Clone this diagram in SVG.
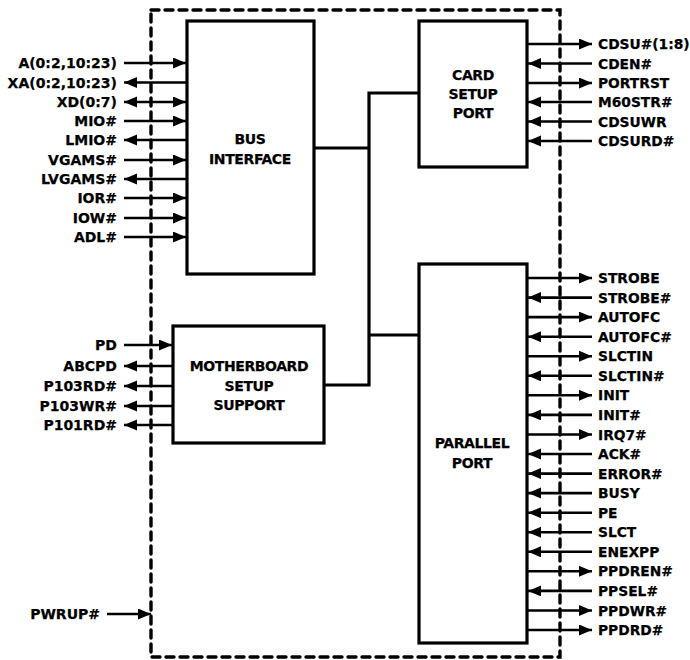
<svg xmlns="http://www.w3.org/2000/svg" width="690" height="660" viewBox="0 0 690 660">
<style>
.box{fill:#fff;stroke:#000;stroke-width:3.2}
.sig{stroke:#000;stroke-width:2.6;fill:none}
.wire{stroke:#000;stroke-width:3.2;fill:none}
.border{fill:none;stroke:#000;stroke-width:3.4;stroke-dasharray:8 6;stroke-linecap:round}
text{font-family:"DejaVu Sans","Liberation Sans",sans-serif;font-weight:bold;fill:#000;stroke:#000;stroke-width:0.25}
.l{font-size:14px;text-anchor:end}
.r{font-size:13.8px;text-anchor:start}
.c{font-size:14px;text-anchor:middle;letter-spacing:-0.4px}
.in{marker-end:url(#ah)}
.out{marker-start:url(#ah)}
.both{marker-start:url(#ah);marker-end:url(#ah)}
</style>
<defs>
<marker id="ah" markerUnits="userSpaceOnUse" markerWidth="14" markerHeight="12" refX="13" refY="5.5" orient="auto-start-reverse" viewBox="0 0 14 12">
<path d="M0,0 L13,5.5 L0,11 z" fill="#000"/>
</marker>
</defs>
<rect width="690" height="660" fill="#fff"/>
<rect class="border" x="151" y="10" width="409" height="647"/>

<g id="connectors">
<polyline class="wire" points="314,148 369,148"/>
<polyline class="wire" points="419,93 369,93 369,385 324,385"/>
<polyline class="wire" points="369,335 419,335"/>
<!-- bus interface signals -->
<line class="sig in" x1="124" y1="63" x2="186" y2="63"/>
<line class="sig out" x1="124" y1="82.5" x2="186" y2="82.5"/>
<line class="sig both" x1="124" y1="102" x2="186" y2="102"/>
<line class="sig in" x1="124" y1="121" x2="186" y2="121"/>
<line class="sig out" x1="124" y1="140" x2="186" y2="140"/>
<line class="sig in" x1="124" y1="160" x2="186" y2="160"/>
<line class="sig out" x1="124" y1="179" x2="186" y2="179"/>
<line class="sig in" x1="124" y1="198" x2="186" y2="198"/>
<line class="sig in" x1="124" y1="218" x2="186" y2="218"/>
<line class="sig in" x1="124" y1="237" x2="186" y2="237"/>
<!-- motherboard signals -->
<line class="sig in" x1="124" y1="345" x2="172" y2="345"/>
<line class="sig out" x1="124" y1="366" x2="172" y2="366"/>
<line class="sig out" x1="124" y1="386" x2="172" y2="386"/>
<line class="sig out" x1="124" y1="406" x2="172" y2="406"/>
<line class="sig out" x1="124" y1="425" x2="172" y2="425"/>
<!-- PWRUP -->
<line class="sig in" x1="107" y1="614" x2="151" y2="614"/>
<!-- card setup signals -->
<line class="sig in" x1="528" y1="44" x2="592" y2="44"/>
<line class="sig out" x1="528" y1="63.5" x2="592" y2="63.5"/>
<line class="sig in" x1="528" y1="83" x2="592" y2="83"/>
<line class="sig out" x1="528" y1="102" x2="592" y2="102"/>
<line class="sig out" x1="528" y1="121.5" x2="592" y2="121.5"/>
<line class="sig out" x1="528" y1="141" x2="592" y2="141"/>
<!-- parallel signals -->
<line class="sig in" x1="528" y1="278" x2="592" y2="278"/>
<line class="sig out" x1="528" y1="297.6" x2="592" y2="297.6"/>
<line class="sig in" x1="528" y1="317.1" x2="592" y2="317.1"/>
<line class="sig out" x1="528" y1="336.7" x2="592" y2="336.7"/>
<line class="sig in" x1="528" y1="356.2" x2="592" y2="356.2"/>
<line class="sig out" x1="528" y1="375.8" x2="592" y2="375.8"/>
<line class="sig in" x1="528" y1="395.3" x2="592" y2="395.3"/>
<line class="sig out" x1="528" y1="414.9" x2="592" y2="414.9"/>
<line class="sig in" x1="528" y1="434.5" x2="592" y2="434.5"/>
<line class="sig out" x1="528" y1="454" x2="592" y2="454"/>
<line class="sig out" x1="528" y1="473.6" x2="592" y2="473.6"/>
<line class="sig out" x1="528" y1="493.1" x2="592" y2="493.1"/>
<line class="sig out" x1="528" y1="512.7" x2="592" y2="512.7"/>
<line class="sig out" x1="528" y1="532.2" x2="592" y2="532.2"/>
<line class="sig out" x1="528" y1="551.8" x2="592" y2="551.8"/>
<line class="sig in" x1="528" y1="571.3" x2="592" y2="571.3"/>
<line class="sig out" x1="528" y1="590.9" x2="592" y2="590.9"/>
<line class="sig in" x1="528" y1="610.5" x2="592" y2="610.5"/>
<line class="sig in" x1="528" y1="630" x2="592" y2="630"/>
</g>

<g id="bus-interface">
<rect class="box" x="187" y="21" width="127" height="253"/>
<text class="c" x="250" y="144">BUS</text>
<text class="c" x="250" y="164">INTERFACE</text>
</g>
<g id="card-setup-port">
<rect class="box" x="419" y="21" width="108" height="146"/>
<text class="c" x="473" y="80">CARD</text>
<text class="c" x="473" y="99">SETUP</text>
<text class="c" x="473" y="118">PORT</text>
</g>
<g id="motherboard-setup-support">
<rect class="box" x="173" y="326" width="151" height="117"/>
<text class="c" x="249" y="371">MOTHERBOARD</text>
<text class="c" x="249" y="391">SETUP</text>
<text class="c" x="249" y="410">SUPPORT</text>
</g>
<g id="parallel-port">
<rect class="box" x="419" y="264" width="108" height="379"/>
<text class="c" x="472" y="448">PARALLEL</text>
<text class="c" x="472" y="468">PORT</text>
</g>

<g id="labels-left">
<text class="l" x="117" y="68">A(0:2,10:23)</text>
<text class="l" x="117" y="87.5">XA(0:2,10:23)</text>
<text class="l" x="117" y="107">XD(0:7)</text>
<text class="l" x="117" y="126">MIO#</text>
<text class="l" x="117" y="145">LMIO#</text>
<text class="l" x="117" y="165">VGAMS#</text>
<text class="l" x="117" y="184">LVGAMS#</text>
<text class="l" x="117" y="203">IOR#</text>
<text class="l" x="117" y="223">IOW#</text>
<text class="l" x="117" y="242">ADL#</text>
<text class="l" x="117" y="350">PD</text>
<text class="l" x="117" y="371">ABCPD</text>
<text class="l" x="117" y="391">P103RD#</text>
<text class="l" x="117" y="411">P103WR#</text>
<text class="l" x="117" y="430">P101RD#</text>
<text class="l" x="100" y="619">PWRUP#</text>
</g>
<g id="labels-right">
<text class="r" x="598" y="49">CDSU#(1:8)</text>
<text class="r" x="598" y="68.5">CDEN#</text>
<text class="r" x="598" y="88">PORTRST</text>
<text class="r" x="598" y="107">M60STR#</text>
<text class="r" x="598" y="126.5">CDSUWR</text>
<text class="r" x="598" y="146">CDSURD#</text>
<text class="r" x="598" y="283">STROBE</text>
<text class="r" x="598" y="302.6">STROBE#</text>
<text class="r" x="598" y="322.1">AUTOFC</text>
<text class="r" x="598" y="341.7">AUTOFC#</text>
<text class="r" x="598" y="361.2">SLCTIN</text>
<text class="r" x="598" y="380.8">SLCTIN#</text>
<text class="r" x="598" y="400.3">INIT</text>
<text class="r" x="598" y="419.9">INIT#</text>
<text class="r" x="598" y="439.5">IRQ7#</text>
<text class="r" x="598" y="459">ACK#</text>
<text class="r" x="598" y="478.6">ERROR#</text>
<text class="r" x="598" y="498.1">BUSY</text>
<text class="r" x="598" y="517.7">PE</text>
<text class="r" x="598" y="537.2">SLCT</text>
<text class="r" x="598" y="556.8">ENEXPP</text>
<text class="r" x="598" y="576.3">PPDREN#</text>
<text class="r" x="598" y="595.9">PPSEL#</text>
<text class="r" x="598" y="615.5">PPDWR#</text>
<text class="r" x="598" y="635">PPDRD#</text>
</g>
</svg>
